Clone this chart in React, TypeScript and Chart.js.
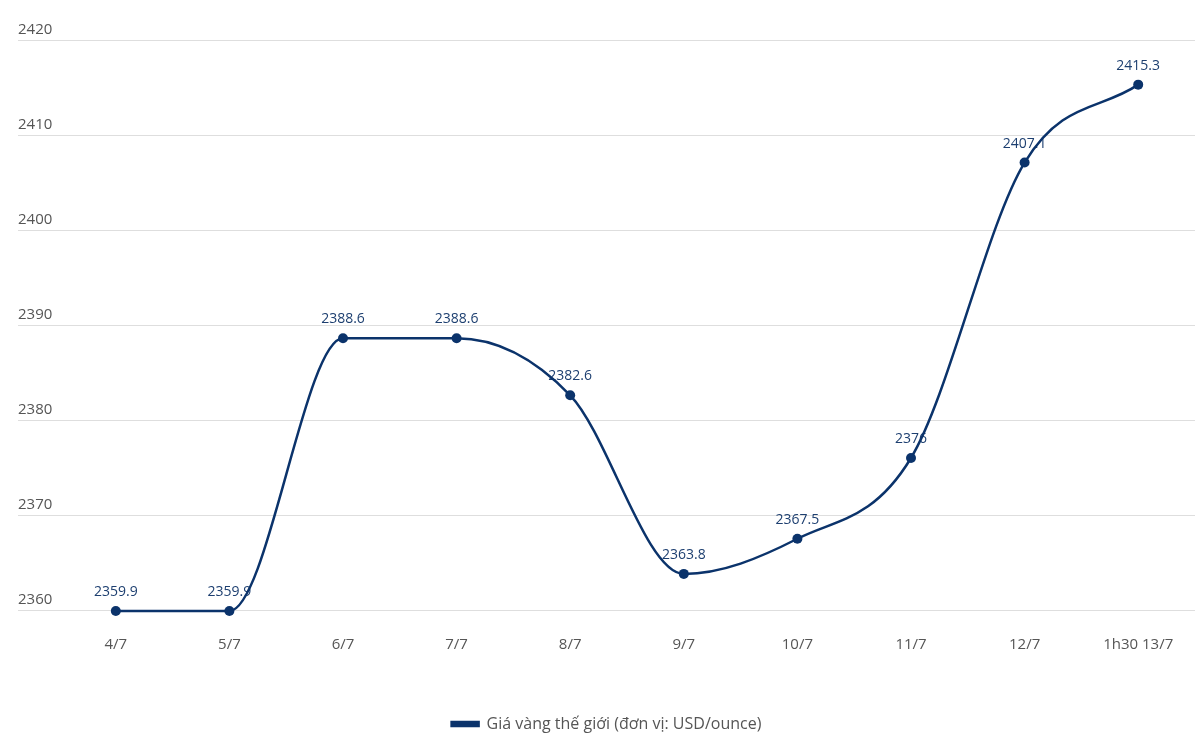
import React, { useEffect, useRef } from "react";
import { Chart, registerables } from "chart.js";

Chart.register(...registerables);

const categories = ["4/7", "5/7", "6/7", "7/7", "8/7", "9/7", "10/7", "11/7", "12/7", "1h30 13/7"];
const goldPrices = [2359.9, 2359.9, 2388.6, 2388.6, 2382.6, 2363.8, 2367.5, 2376, 2407.1, 2415.3];
const seriesName = "Giá vàng thế giới (đơn vị: USD/ounce)";
const yMin = 2358;
const yMax = 2420;
const yStep = 10;

const NAVY = "#0b336b";
const FONT = "'Open Sans', 'Noto Sans', sans-serif";

const valueLabels = {
  id: "valueLabels",
  beforeDatasetsDraw(chart: any) {
    const ctx = chart.ctx;
    ctx.save();
    ctx.font = `14px ${FONT}`;
    ctx.fillStyle = "#1d3f70";
    ctx.textAlign = "center";
    ctx.textBaseline = "alphabetic";
    chart.data.datasets.forEach((ds: any, di: number) => {
      const meta = chart.getDatasetMeta(di);
      meta.data.forEach((el: any, i: number) => {
        ctx.fillText(String(ds.data[i]), el.x, el.y - 15);
      });
    });
    ctx.restore();
  },
};

export default function App() {
  const ref = useRef<HTMLCanvasElement | null>(null);
  useEffect(() => {
    if (!ref.current) return;
    const chart = new Chart(ref.current, {
      type: "line",
      data: {
        labels: categories,
        datasets: [
          {
            label: seriesName,
            data: goldPrices,
            borderColor: NAVY,
            backgroundColor: NAVY,
            borderWidth: 2.5,
            pointRadius: 5,
            pointBackgroundColor: NAVY,
            pointBorderWidth: 0,
            cubicInterpolationMode: "monotone",
            fill: false,
          },
        ],
      },
      options: {
        responsive: false,
        animation: false,
        maintainAspectRatio: false,
        layout: { padding: { top: 40, left: 18, right: 5, bottom: 10 } },
        scales: {
          x: {
            offset: true,
            grid: { display: false, drawTicks: false },
            border: { display: false },
            ticks: { color: "#555", font: { size: 15, family: FONT }, padding: 7, maxRotation: 0 },
            afterFit: (s: any) => {
              s.height = 77;
            },
          },
          y: {
            min: yMin,
            max: yMax,
            ticks: {
              stepSize: yStep,
              crossAlign: "far",
              labelOffset: -10,
              padding: 0,
              color: "#555",
              font: { size: 15, family: FONT },
              callback: (v: any) => String(v),
            },
            grid: { color: "#dedede", tickLength: 41, drawTicks: true, tickColor: "#dedede" },
            border: { display: false },
            afterBuildTicks: (s: any) => {
              s.ticks = s.ticks.filter((t: any) => Math.abs(t.value % yStep) < 1e-6);
            },
            afterFit: (s: any) => {
              s.width = 41;
            },
          },
        },
        plugins: {
          legend: {
            position: "bottom",
            labels: {
              boxWidth: 27,
              boxHeight: 4,
              color: "#555",
              padding: 10,
              font: { size: 16, family: FONT },
            },
          },
          tooltip: { enabled: false },
        },
      },
      plugins: [valueLabels],
    });
    return () => chart.destroy();
  }, []);
  return (
    <div style={{ position: "fixed", left: 0, top: 0, width: 1200, height: 752, background: "#fff" }}>
      <canvas ref={ref} width={1200} height={752} style={{ width: 1200, height: 752 }} />
    </div>
  );
}
